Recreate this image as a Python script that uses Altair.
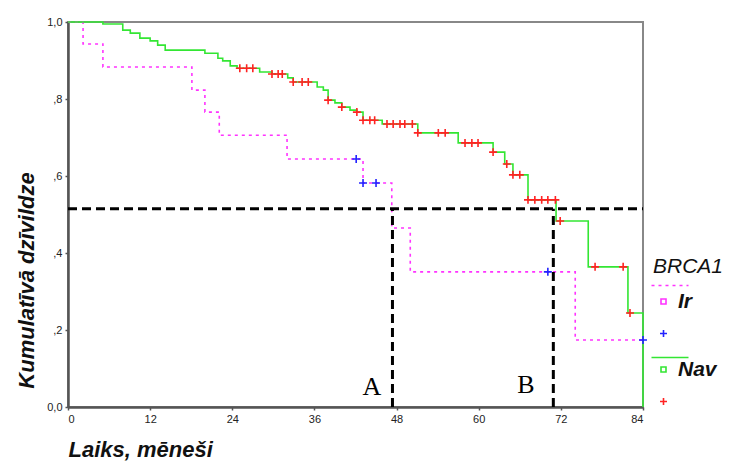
import altair as alt
import pandas as pd

# ---- data ----
ir_t = [0, 2.2, 5.1, 18.1, 20.0, 22.1, 32.0, 43.1, 47.3, 50.0, 74.1, 84.0]
ir_s = [1.0, 0.943, 0.883, 0.823, 0.766, 0.706, 0.644, 0.582, 0.465, 0.351, 0.174, 0.174]
ir_cens_t = [42.1, 43.1, 45.0, 70.1, 84.0]

nav_t = [0, 5.1, 8.0, 9.1, 10.5, 12.0, 13.1, 14.2, 20.0, 21.9, 22.6, 23.7, 24.7,
         28.0, 29.8, 32.1, 32.9, 36.4, 37.3, 38.0, 39.0, 40.0, 41.2, 42.2, 43.1,
         45.9, 51.1, 57.0, 62.1, 63.8, 65.0, 67.2, 71.3, 76.0, 81.8, 84.0]
nav_s = [1.0, 0.995, 0.979, 0.971, 0.958, 0.951, 0.940, 0.927, 0.919, 0.906, 0.899,
         0.886, 0.880, 0.870, 0.865, 0.855, 0.844, 0.831, 0.823, 0.797, 0.790, 0.779,
         0.771, 0.766, 0.745, 0.735, 0.712, 0.686, 0.662, 0.631, 0.603, 0.538, 0.483,
         0.364, 0.244, 0.0]
nav_cens_t = [25.1, 26.1, 27.0, 29.8, 30.7, 31.3, 32.9, 34.2, 35.1, 38.0, 40.0, 42.2,
              43.1, 44.1, 44.8, 46.6, 47.5, 48.5, 49.2, 50.3, 51.1, 54.1, 55.1,
              58.0, 59.0, 59.9, 62.1, 64.1, 65.0, 66.0, 67.2, 68.2, 69.2, 70.1,
              71.2, 71.9, 77.0, 81.1, 82.1]

x_ticks = [0, 12, 24, 36, 48, 60, 72, 84]
y_ticks = [0, 0.2, 0.4, 0.6, 0.8, 1.0]

median_level = [0.515]
median_x = [47.4, 70.9]
note_txt = ["A", "B"]
note_x = [44.4, 66.9]
note_y = [0.052, 0.057]

groups = ["Ir", "Ir_c", "Nav", "Nav_c"]
group_cols = ["#ff33ff", "#2222ff", "#33e633", "#ff2222"]


def level_at(ts, ss, t):
    v = ss[0]
    for a, b in zip(ts, ss):
        if a <= t:
            v = b
    return v


# ---- tables ----
ir_df = pd.DataFrame({"t": ir_t, "s": ir_s})
nav_df = pd.DataFrame({"t": nav_t, "s": nav_s})
cens_df = pd.DataFrame(
    [{"t": t, "s": level_at(ir_t, ir_s, t), "grp": "Ir_c"} for t in ir_cens_t]
    + [{"t": t, "s": level_at(nav_t, nav_s, t), "grp": "Nav_c"} for t in nav_cens_t]
)
hline_df = pd.DataFrame({"s": median_level, "x0": [0], "x1": [84]})
vline_df = pd.DataFrame({"t": median_x, "s0": [0, 0], "s1": median_level * 2})
note_df = pd.DataFrame({"t": note_x, "s": note_y, "txt": note_txt})

# legend symbols (styling only)
def dashes(y, x0, x1, dash, gap):
    out = []
    x = x0
    while x < x1:
        out.append(f"M{x:.2f},{y}H{min(x + dash, x1):.2f}")
        x += dash + gap
    return "".join(out)

sq = "M-0.5,-0.5H0.5V0.5H-0.5Z"
plus = "M-0.7,0H0.7M0,-0.7V0.7"
ir_sym = dashes(-3.2, -2.4, 5.0, 0.6, 0.8) + sq
nav_sym = "M-2.4,-2.4H5" + sq
group_shapes = [ir_sym, plus, nav_sym, plus]

xs = alt.Scale(domain=[0, 84], nice=False, zero=False)
ys = alt.Scale(domain=[0, 1], nice=False)

x_axis = alt.Axis(values=x_ticks, title="Laiks, mēneši", titleX=0, titleY=49,
                  titleAlign="left", titleBaseline="alphabetic")
y_axis = alt.Axis(values=y_ticks, title="Kumulatīvā dzīvildze", titleX=-35, titleY=258,
                  titleAlign="center", titleBaseline="alphabetic",
                  labelExpr="datum.value == 0 ? '0,0' : datum.value == 1 ? '1,0' : ',' + round(datum.value*10)")

ir_line = alt.Chart(ir_df).mark_line(interpolate="step-after", color="#ff33ff",
                                     strokeWidth=1.6, strokeDash=[3, 4]).encode(
    x=alt.X("t:Q", scale=xs, axis=x_axis),
    y=alt.Y("s:Q", scale=ys, axis=y_axis),
)
nav_line = alt.Chart(nav_df).mark_line(interpolate="step-after", color="#33e633",
                                       strokeWidth=1.6).encode(
    x=alt.X("t:Q", scale=xs),
    y=alt.Y("s:Q", scale=ys),
)

legend = alt.Legend(
    title="BRCA1", orient="none", legendX=585, legendY=234,
    labelExpr="datum.label == 'Ir' || datum.label == 'Nav' ? datum.label : ''",
)
cens = alt.Chart(cens_df).mark_point(filled=False, size=130, strokeWidth=1.6, opacity=1).encode(
    x=alt.X("t:Q", scale=xs),
    y=alt.Y("s:Q", scale=ys),
    color=alt.Color("grp:N", scale=alt.Scale(domain=groups, range=group_cols), legend=legend),
    shape=alt.Shape("grp:N", scale=alt.Scale(domain=groups, range=group_shapes), legend=legend),
)

hline = alt.Chart(hline_df).mark_rule(color="black", strokeWidth=3, strokeDash=[9, 5]).encode(
    y=alt.Y("s:Q", scale=ys), x=alt.X("x0:Q", scale=xs), x2="x1:Q"
)
vline = alt.Chart(vline_df).mark_rule(color="black", strokeWidth=3, strokeDash=[9, 5]).encode(
    x=alt.X("t:Q", scale=xs), y=alt.Y("s0:Q", scale=ys), y2="s1:Q"
)
notes = alt.Chart(note_df).mark_text(font="Liberation Serif", fontSize=26, color="black",
                                     baseline="middle", align="center").encode(
    x=alt.X("t:Q", scale=xs), y=alt.Y("s:Q", scale=ys), text="txt:N"
)

chart = alt.layer(ir_line, nav_line, hline, vline, cens, notes).properties(
    width=575, height=385,
    padding={"left": 60, "top": 14, "right": 84, "bottom": 56},
    autosize=alt.AutoSizeParams(type="none"),
    background="white",
).configure_view(
    stroke="#888888", strokeWidth=2
).configure_axis(
    grid=False, domainColor="#555555", domainWidth=2.5, tickColor="#555555",
    tickSize=3, tickWidth=1.5, labelFont="Liberation Sans", labelFontSize=11,
    labelColor="#222222", labelPadding=3,
    titleFont="Liberation Sans", titleFontSize=22, titleFontStyle="italic",
    titleFontWeight="bold", titleColor="#111111",
).configure_legend(
    titleFont="Liberation Sans", titleFontSize=21, titleFontStyle="italic",
    titleFontWeight="normal", titleColor="#111111", titlePadding=14,
    labelFont="Liberation Sans", labelFontSize=21, labelFontStyle="italic",
    labelFontWeight="bold", labelColor="#111111",
    symbolSize=100, symbolStrokeWidth=1.6, rowPadding=10, padding=0,
)

chart.save("out.html", embed_options={"renderer": "svg", "actions": False})
